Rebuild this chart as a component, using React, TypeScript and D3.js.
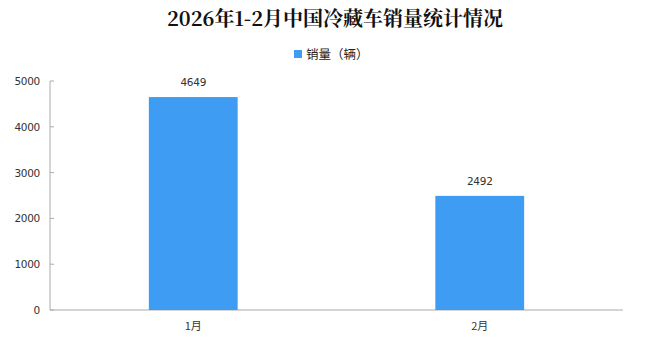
import React from "react";
import * as d3 from "d3";

const categories = ["1月", "2月"];
const values = [4649, 2492];
const yTicks = [0, 1000, 2000, 3000, 4000, 5000];
const title = "2026年1-2月中国冷藏车销量统计情况";
const seriesName = "销量（辆）";

export default function App() {
  const W = 663, H = 341;
  const x0 = 50, x1 = 623, yTop = 81, yBot = 310;
  const x = d3.scaleBand<string>().domain(categories).range([x0, x1]).paddingInner(0.69).paddingOuter(0.345);
  const y = d3.scaleLinear().domain([0, 5000]).range([yBot, yTop]);
  const font = "'DejaVu Sans', 'Liberation Sans', sans-serif";
  const color = "#3e9cf3";
  return (
    <svg width={W} height={H} style={{ position: "absolute", left: 0, top: 0, background: "#fff" }}>
      <text x={335} y={26} textAnchor="middle" fontFamily="'Noto Serif CJK SC','Noto Sans CJK SC', serif" fontWeight="bold" fontSize={20} fill="#111">{title}</text>
      <rect x={294} y={50} width={8} height={8} fill={color} />
      <text x={306} y={59} fontFamily="'Noto Sans CJK SC', sans-serif" fontSize={12.5} fill="#222">{seriesName}</text>
      <line x1={x0} x2={x0} y1={yTop} y2={yBot} stroke="#aaa" strokeWidth={1} />
      <line x1={x0} x2={x1} y1={yBot} y2={yBot} stroke="#aaa" strokeWidth={1} />
      {yTicks.map((t) => (
        <g key={t}>
          <line x1={x0} x2={x0 + 4} y1={y(t)} y2={y(t)} stroke="#aaa" />
          <text x={40} y={y(t) + 4} textAnchor="end" fontFamily={font} fontSize={10.5} fill="#333" letterSpacing={-0.3}>{t}</text>
        </g>
      ))}
      {categories.map((c, i) => (
        <g key={c}>
          <rect x={x(c)!} y={y(values[i])} width={x.bandwidth()} height={yBot - y(values[i])} fill={color} />
          <text x={x(c)! + x.bandwidth() / 2} y={y(values[i]) - 11} textAnchor="middle" fontFamily={font} fontSize={10.5} fill="#333" letterSpacing={-0.3}>{values[i]}</text>
          <text x={x(c)! + x.bandwidth() / 2} y={330} textAnchor="middle" fontFamily="'Noto Sans CJK SC', sans-serif" fontSize={11} fill="#333">{c}</text>
        </g>
      ))}
    </svg>
  );
}
